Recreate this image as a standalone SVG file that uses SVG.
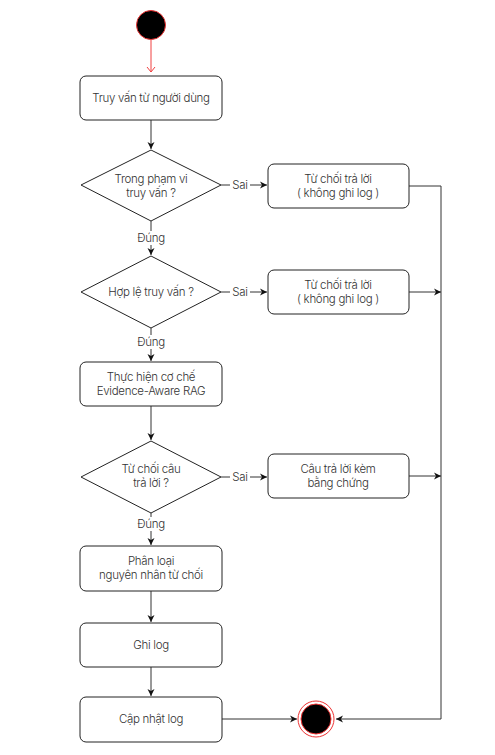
<svg xmlns="http://www.w3.org/2000/svg" width="495" height="755" viewBox="0 0 495 755">
<style>
.box{fill:#fff;stroke:#222;stroke-width:1}
.t{font-family:Inter,"Noto Sans",sans-serif;font-size:11.5px;font-weight:300;fill:#333;text-anchor:middle;letter-spacing:-0.3px}
.c{fill:none;stroke:#333;stroke-width:1}
</style>
<defs>
<marker id="a" markerWidth="8" markerHeight="8" refX="7" refY="4" orient="auto" markerUnits="userSpaceOnUse"><path d="M0,0.5 L7,4 L0,7.5 L2,4 Z" fill="#111"/></marker>
<marker id="r" markerWidth="10" markerHeight="10" refX="5" refY="8" orient="0" markerUnits="userSpaceOnUse"><path d="M1,3 L5,8 L9,3" fill="none" stroke="#f04040" stroke-width="1"/></marker>
</defs>
<rect width="495" height="755" fill="#fff"/>
<g id="connectors">
<line x1="151" y1="40" x2="151" y2="72" stroke="#f04040" stroke-width="1" marker-end="url(#r)"/>
<line class="c" x1="151" y1="120" x2="151" y2="149" marker-end="url(#a)"/>
<line class="c" x1="221" y1="185" x2="267" y2="185" marker-end="url(#a)"/>
<line class="c" x1="151" y1="221" x2="151" y2="255" marker-end="url(#a)"/>
<line class="c" x1="221" y1="292" x2="267" y2="292" marker-end="url(#a)"/>
<line class="c" x1="151" y1="328" x2="151" y2="361" marker-end="url(#a)"/>
<line class="c" x1="151" y1="406" x2="151" y2="440" marker-end="url(#a)"/>
<line class="c" x1="221" y1="477" x2="267" y2="477" marker-end="url(#a)"/>
<line class="c" x1="151" y1="513" x2="151" y2="545" marker-end="url(#a)"/>
<line class="c" x1="151" y1="591" x2="151" y2="622" marker-end="url(#a)"/>
<line class="c" x1="151" y1="667" x2="151" y2="696" marker-end="url(#a)"/>
<line class="c" x1="222" y1="719" x2="297" y2="719" marker-end="url(#a)"/>
<polyline class="c" points="409,186 441,186 441,719 336,719" marker-end="url(#a)"/>
<line class="c" x1="409" y1="292" x2="441" y2="292" marker-end="url(#a)"/>
<line class="c" x1="409" y1="476" x2="441" y2="476" marker-end="url(#a)"/>
<rect x="230" y="178" width="20" height="14" fill="#fff"/>
<text class="t" x="240" y="189">Sai</text>
<rect x="230" y="285" width="20" height="14" fill="#fff"/>
<text class="t" x="240" y="296">Sai</text>
<rect x="230" y="470" width="20" height="14" fill="#fff"/>
<text class="t" x="240" y="481">Sai</text>
<rect x="135" y="231" width="32" height="14" fill="#fff"/>
<text class="t" x="151" y="242">Đúng</text>
<rect x="135" y="335" width="32" height="14" fill="#fff"/>
<text class="t" x="151" y="346">Đúng</text>
<rect x="135" y="517" width="32" height="14" fill="#fff"/>
<text class="t" x="151" y="528">Đúng</text>
</g>
<g id="start"><circle cx="151" cy="25" r="14.5" fill="#000" stroke="#e33" stroke-width="1"/></g>
<g id="n1"><rect class="box" x="80" y="76" width="142" height="44" rx="6"/><text class="t" x="151" y="102">Truy vấn từ người dùng</text></g>
<g id="d1"><polygon class="box" points="151,150 221,185 151,221 81,185"/><text class="t" x="151" y="183">Trong phạm vi</text><text class="t" x="151" y="197">truy vấn ?</text></g>
<g id="r1"><rect class="box" x="268" y="164" width="141" height="44" rx="6"/><text class="t" x="338" y="183">Từ chối trả lời</text><text class="t" x="338" y="197">( không ghi log )</text></g>
<g id="d2"><polygon class="box" points="151,256 221,292 151,328 81,292"/><text class="t" x="151" y="296">Hợp lệ truy vấn ?</text></g>
<g id="r2"><rect class="box" x="268" y="270" width="141" height="44" rx="6"/><text class="t" x="338" y="289">Từ chối trả lời</text><text class="t" x="338" y="303">( không ghi log )</text></g>
<g id="n2"><rect class="box" x="80" y="362" width="142" height="44" rx="6"/><text class="t" x="151" y="381">Thực hiện cơ chế</text><text class="t" x="151" y="395">Evidence-Aware RAG</text></g>
<g id="d3"><polygon class="box" points="151,441 221,477 151,513 81,477"/><text class="t" x="151" y="473">Từ chối câu</text><text class="t" x="151" y="487">trả lời ?</text></g>
<g id="r3"><rect class="box" x="268" y="454" width="141" height="44" rx="6"/><text class="t" x="338" y="473">Câu trả lời kèm</text><text class="t" x="338" y="487">bằng chứng</text></g>
<g id="n3"><rect class="box" x="80" y="546" width="142" height="45" rx="6"/><text class="t" x="151" y="565">Phân loại</text><text class="t" x="151" y="579">nguyên nhân từ chối</text></g>
<g id="n4"><rect class="box" x="80" y="623" width="142" height="44" rx="6"/><text class="t" x="151" y="649">Ghi log</text></g>
<g id="n5"><rect class="box" x="80" y="697" width="142" height="45" rx="6"/><text class="t" x="151" y="723">Cập nhật log</text></g>
<g id="end"><circle cx="316" cy="719" r="18" fill="#fff" stroke="#e33" stroke-width="1"/><circle cx="316" cy="719" r="15" fill="#000" stroke="#e33" stroke-width="1"/></g>
</svg>
